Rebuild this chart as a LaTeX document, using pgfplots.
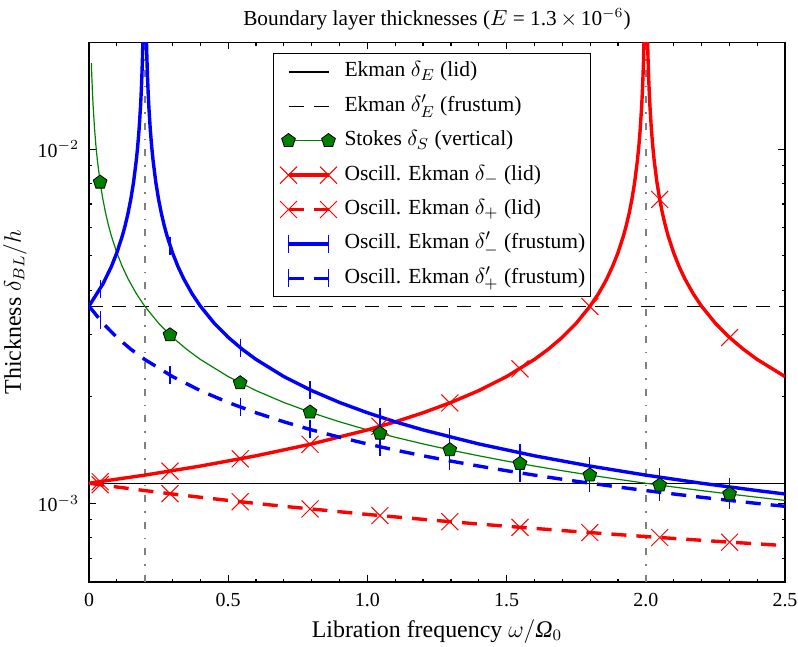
\documentclass[border=0pt]{standalone}
\usepackage{fontspec}
\setmainfont{Liberation Serif}
\usepackage{pgfplots}
\pgfplotsset{compat=1.18}

\definecolor{mplgreen}{rgb}{0,0.5,0}
\pgfplotsset{
  lidline/.style={red, line width=1.7bp, mark=x, mark size=6bp,
    mark options={solid, line width=0.5bp}},
  frustline/.style={blue, line width=1.7bp, mark=|, mark size=4.5bp,
    mark options={solid, line width=0.6bp}},
  stokesline/.style={mplgreen, line width=0.6bp, mark=pentagon*, mark size=3.6bp,
    mark options={solid, fill=mplgreen, draw=black, line width=0.4bp}},
  dashedthick/.style={dash pattern=on 7.5bp off 5bp},
  dashedthin/.style={dash pattern=on 7bp off 4.5bp},
  resonance/.style={black!50, line width=1bp,
    dash pattern=on 3.5bp off 4.5bp on 0.8bp off 4.5bp},
}

\begin{document}
\begin{tikzpicture}
\begin{axis}[
  scale only axis, width=348bp, height=269.75bp,
  ymode=log,
  xmin=0, xmax=2.5, ymin=6e-4, ymax=2e-2,
  axis line style={line width=0.75bp},
  tick style={black, line width=0.6bp},
  major tick length=3.5bp, minor tick length=1.75bp,
  xtick={0,0.5,1,1.5,2,2.5},
  xticklabels={0,0.5,1.0,1.5,2.0,2.5},
  minor x tick num=4,
  ytick={1e-3,1e-2},
  yticklabels={10$^{-3}$,10$^{-2}$},
  minor ytick={6e-4,7e-4,8e-4,9e-4,2e-3,3e-3,4e-3,5e-3,6e-3,7e-3,8e-3,9e-3,2e-2},
  tick label style={font=\fontsize{10}{12}\selectfont},
  xticklabel style={anchor=base, yshift=-12bp},
  yticklabel style={xshift=-1.5bp},
  title={Boundary layer thicknesses ($E$ = 1.3\,$\times$\,10$^{-6}$)},
  title style={at={(axis description cs:0.5,1.0102)}, anchor=base,
    font=\fontsize{10.7}{12}\selectfont},
  xlabel={Libration frequency $\omega/$\textit{Ω}$_0$},
  xlabel style={at={(axis description cs:0.5,-0.102)}, anchor=base,
    font=\fontsize{12}{14}\selectfont},
  ylabel={Thickness $\delta_{BL}/h$},
  ylabel style={at={(axis description cs:-0.098,0.5)}, anchor=base,
    font=\fontsize{12}{14}\selectfont},
  legend image code/.code={%
    \path[draw=none, fill=none] (-5bp,-5.5bp) rectangle (25bp,5.5bp);
    \draw[mark repeat=1,mark phase=1,#1] plot coordinates {(0bp,0bp) (20bp,0bp)};%
  },
  legend cell align=left,
  legend style={
    at={(axis description cs:0.264,0.981)}, anchor=north west,
    draw=black, line width=0.75bp, fill=white,
    inner xsep=2.5bp, inner ysep=3.7bp,
    row sep=6.2bp, column sep=3bp,
    font=\fontsize{10.8}{13}\selectfont,
    nodes={inner sep=0pt, text height=8bp, text depth=3bp, anchor=west},
  },
]

% legend entries
\addlegendimage{black, line width=0.6bp}
\addlegendentry{Ekman $\delta_E$ (lid)}
\addlegendimage{black, line width=0.6bp, dashedthick}
\addlegendentry{Ekman $\delta'_E$ (frustum)}
\addlegendimage{stokesline}
\addlegendentry{Stokes $\delta_S$ (vertical)}
\addlegendimage{lidline}
\addlegendentry{Oscill. Ekman $\delta_-$ (lid)}
\addlegendimage{lidline, dashedthick}
\addlegendentry{Oscill. Ekman $\delta_+$ (lid)}
\addlegendimage{frustline}
\addlegendentry{Oscill. Ekman $\delta'_-$ (frustum)}
\addlegendimage{frustline, dashedthick}
\addlegendentry{Oscill. Ekman $\delta'_+$ (frustum)}

% resonance frequencies
\addplot[resonance, forget plot] coordinates {(0.2,6e-4) (0.2,2e-2)};
\addplot[resonance, forget plot] coordinates {(2.0,6e-4) (2.0,2e-2)};

% steady Ekman layers
\addplot[black, line width=0.6bp, forget plot] coordinates {(0,1.1402e-3) (2.5,1.1402e-3)};
\addplot[black, line width=0.6bp, dashedthin, forget plot] coordinates {(0,3.6056e-3) (2.5,3.6056e-3)};

% Stokes layer (line)
\addplot[stokesline, no marks, forget plot] coordinates {
(0.0085,17.490e-3) (0.01,16.125e-3) (0.0125,14.422e-3) (0.015,13.166e-3)
(0.02,11.402e-3) (0.025,10.198e-3) (0.03,9.3095e-3) (0.04,8.0623e-3)
(0.05,7.2111e-3) (0.06,6.5828e-3) (0.07,6.0945e-3) (0.08,5.7009e-3)
(0.1,5.0990e-3) (0.12,4.6548e-3) (0.14,4.3095e-3) (0.17,3.9108e-3)
(0.2,3.6056e-3) (0.25,3.2249e-3) (0.3,2.9439e-3) (0.35,2.7255e-3)
(0.4,2.5495e-3) (0.5,2.2804e-3) (0.6,2.0817e-3) (0.7,1.9273e-3)
(0.8,1.8028e-3) (0.9,1.6997e-3) (1.0,1.6125e-3) (1.1,1.5374e-3)
(1.2,1.4720e-3) (1.3,1.4142e-3) (1.4,1.3628e-3) (1.5,1.3166e-3)
(1.6,1.2748e-3) (1.7,1.2367e-3) (1.8,1.2019e-3) (1.9,1.1698e-3)
(2.0,1.1402e-3) (2.1,1.1127e-3) (2.2,1.0871e-3) (2.3,1.0632e-3)
(2.4,1.0408e-3) (2.5,1.0198e-3)};

% oscillating Ekman layer on the lid, delta_-
\addplot[lidline, no marks, forget plot] coordinates {
(0,1.1402e-3) (0.2,1.2019e-3) (0.4,1.2748e-3) (0.6,1.3628e-3)
(0.8,1.4720e-3) (1.0,1.6125e-3) (1.1,1.6997e-3) (1.2,1.8028e-3)
(1.3,1.9273e-3) (1.4,2.0817e-3) (1.5,2.2804e-3) (1.6,2.5495e-3)
(1.65,2.7255e-3) (1.7,2.9439e-3) (1.75,3.2249e-3) (1.8,3.6056e-3)
(1.83,3.9108e-3) (1.85,4.1633e-3) (1.86,4.3095e-3) (1.88,4.6548e-3)
(1.9,5.0990e-3) (1.92,5.7009e-3) (1.93,6.0945e-3) (1.94,6.5828e-3)
(1.95,7.2111e-3) (1.96,8.0623e-3) (1.97,9.3095e-3) (1.975,10.198e-3)
(1.98,11.402e-3) (1.985,13.166e-3) (1.9875,14.422e-3) (1.99,16.125e-3)
(1.992,18.028e-3) (1.994,20.817e-3) (1.996,25.495e-3)
(2.004,25.495e-3) (2.006,20.817e-3) (2.008,18.028e-3) (2.01,16.125e-3)
(2.0125,14.422e-3) (2.015,13.166e-3) (2.02,11.402e-3) (2.025,10.198e-3)
(2.03,9.3095e-3) (2.04,8.0623e-3) (2.05,7.2111e-3) (2.06,6.5828e-3)
(2.07,6.0945e-3) (2.08,5.7009e-3) (2.1,5.0990e-3) (2.12,4.6548e-3)
(2.14,4.3095e-3) (2.17,3.9108e-3) (2.2,3.6056e-3) (2.25,3.2249e-3)
(2.3,2.9439e-3) (2.35,2.7255e-3) (2.4,2.5495e-3) (2.5,2.2804e-3)};
\addplot[lidline, only marks, forget plot] coordinates {
(0.040,1.1518e-3) (0.291,1.2335e-3) (0.543,1.3359e-3) (0.794,1.4683e-3)
(1.045,1.6500e-3) (1.296,1.9218e-3) (1.548,2.3984e-3) (1.799,3.5966e-3)
(2.050,7.2111e-3) (2.301,2.9390e-3)};

% oscillating Ekman layer on the lid, delta_+
\addplot[lidline, dashedthick, no marks, forget plot] coordinates {
(0,1.1402e-3) (0.1,1.1127e-3) (0.2,1.0871e-3) (0.3,1.0632e-3)
(0.4,1.0408e-3) (0.5,1.0198e-3) (0.6,1.0000e-3) (0.7,0.98131e-3)
(1.0,0.93095e-3) (1.25,0.89443e-3) (1.5,0.86189e-3) (1.75,0.83266e-3)
(2.0,0.80623e-3) (2.25,0.78215e-3) (2.5,0.76012e-3)};
\addplot[lidline, only marks, forget plot] coordinates {
(0.040,1.1289e-3) (0.291,1.0653e-3) (0.543,1.0112e-3) (0.794,0.96466e-3)
(1.045,0.92404e-3) (1.296,0.88817e-3) (1.548,0.85604e-3) (1.799,0.82728e-3)
(2.050,0.80124e-3) (2.301,0.77750e-3)};

% oscillating Ekman layer on the frustum, delta'_-
\addplot[frustline, no marks, forget plot] coordinates {
(0,3.6056e-3) (0.05,4.1633e-3) (0.08,4.6548e-3) (0.1,5.0990e-3)
(0.12,5.7009e-3) (0.13,6.0945e-3) (0.14,6.5828e-3) (0.15,7.2111e-3)
(0.16,8.0623e-3) (0.17,9.3095e-3) (0.175,10.198e-3) (0.18,11.402e-3)
(0.185,13.166e-3) (0.1875,14.422e-3) (0.19,16.125e-3) (0.192,18.028e-3)
(0.194,20.817e-3) (0.196,25.495e-3)
(0.204,25.495e-3) (0.206,20.817e-3) (0.208,18.028e-3) (0.21,16.125e-3)
(0.2125,14.422e-3) (0.215,13.166e-3) (0.22,11.402e-3) (0.225,10.198e-3)
(0.23,9.3095e-3) (0.24,8.0623e-3) (0.25,7.2111e-3) (0.26,6.5828e-3)
(0.27,6.0945e-3) (0.28,5.7009e-3) (0.3,5.0990e-3) (0.32,4.6548e-3)
(0.34,4.3095e-3) (0.37,3.9108e-3) (0.4,3.6056e-3) (0.45,3.2249e-3)
(0.5,2.9439e-3) (0.55,2.7255e-3) (0.6,2.5495e-3) (0.7,2.2804e-3)
(0.8,2.0817e-3) (0.9,1.9273e-3) (1.0,1.8028e-3) (1.1,1.6997e-3)
(1.2,1.6125e-3) (1.4,1.4720e-3) (1.6,1.3628e-3) (1.8,1.2748e-3)
(2.0,1.2019e-3) (2.2,1.1402e-3) (2.4,1.0871e-3) (2.5,1.0632e-3)};
\addplot[frustline, only marks, forget plot] coordinates {
(0.040,4.0311e-3) (0.291,5.3452e-3) (0.543,2.7532e-3) (0.794,2.0922e-3)
(1.045,1.7541e-3) (1.296,1.5402e-3) (1.548,1.3888e-3) (1.799,1.2752e-3)
(2.050,1.1855e-3) (2.301,1.1124e-3)};

% oscillating Ekman layer on the frustum, delta'_+
\addplot[frustline, dashedthick, no marks, forget plot] coordinates {
(0,3.6056e-3) (0.05,3.2249e-3) (0.1,2.9439e-3) (0.15,2.7255e-3)
(0.2,2.5495e-3) (0.3,2.2804e-3) (0.4,2.0817e-3) (0.5,1.9273e-3)
(0.6,1.8028e-3) (0.7,1.6997e-3) (0.8,1.6125e-3) (0.9,1.5374e-3)
(1.0,1.4720e-3) (1.1,1.4142e-3) (1.2,1.3628e-3) (1.3,1.3166e-3)
(1.4,1.2748e-3) (1.5,1.2367e-3) (1.6,1.2019e-3) (1.7,1.1698e-3)
(1.8,1.1402e-3) (1.9,1.1127e-3) (2.0,1.0871e-3) (2.1,1.0632e-3)
(2.2,1.0408e-3) (2.3,1.0198e-3) (2.4,1.0000e-3) (2.5,0.98131e-3)};
\addplot[frustline, only marks, forget plot] coordinates {
(0.040,3.2914e-3) (0.291,2.3011e-3) (0.543,1.8707e-3) (0.794,1.6173e-3)
(1.045,1.4451e-3) (1.296,1.3183e-3) (1.548,1.2196e-3) (1.799,1.1404e-3)
(2.050,1.0750e-3) (2.301,1.0196e-3)};

% Stokes layer (markers)
\addplot[stokesline, only marks, forget plot] coordinates {
(0.040,8.0623e-3) (0.291,2.9891e-3) (0.543,2.1882e-3) (0.794,1.8095e-3)
(1.045,1.5774e-3) (1.296,1.4164e-3) (1.548,1.2960e-3) (1.799,1.2022e-3)
(2.050,1.1262e-3) (2.301,1.0630e-3)};

\end{axis}
\pgfresetboundingbox
\useasboundingbox (-44.5bp,-32.5bp) rectangle (354.5bp,291bp);
\end{tikzpicture}
\end{document}
